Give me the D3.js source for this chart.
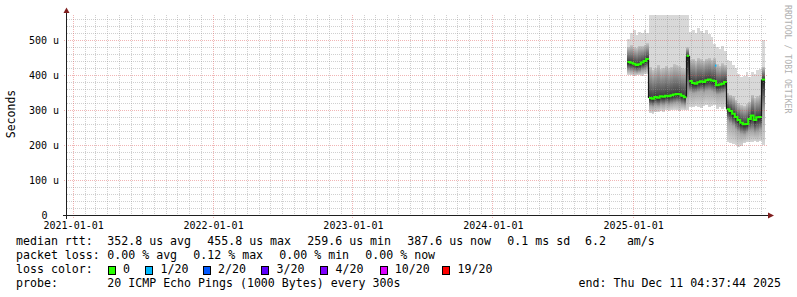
<!DOCTYPE html>
<html>
<head>
<meta charset="utf-8">
<script src="https://cdn.jsdelivr.net/npm/d3@7"></script>
<style>
  html, body { margin: 0; padding: 0; background: #fff; }
  svg text { font-family: "DejaVu Sans Mono", monospace; white-space: pre; }
</style>
</head>
<body>
<div id="chart-container"></div>
<script>
// weekly consolidated ping rtt, microseconds
const weekStart = "2024-12-17";
const endTime = "2025-12-11 04:37:44";

const median = [438, 436, 433, 430, 432, 437, 441, 447,
  335, 333, 338, 336, 340, 339, 342, 340, 343, 345, 347, 346, 342, 337,
  456,
  384, 378, 376, 380, 383, 381, 386, 388, 385, 384,
  372, 374, 376, 381,
  303, 298, 290, 281, 272, 264, 260, 261, 275,
  285, 272, 280, 281,
  388];
const smokeMax = [505, 520, 530, 515, 525, 520, 530, 520,
  620, 680, 650, 700, 640, 660, 690, 630, 670, 650, 700, 640, 660, 620,
  620,
  525, 530, 522, 536, 528, 520, 530, 518, 510, 490,
  480, 476, 485, 470,
  445, 440, 430, 420, 405, 395, 398, 410, 395,
  410, 405, 415, 418,
  500];
const smokeUpper = [482, 486, 480, 478, 485, 484, 488, 492,
  425, 415, 420, 430, 418, 422, 428, 420, 425, 432, 430, 426, 420, 418,
  480,
  445, 448, 440, 450, 446, 442, 448, 450, 444, 450,
  432, 428, 435, 430,
  350, 345, 340, 330, 320, 315, 312, 318, 325,
  345, 335, 340, 345,
  425];
const smokeLower = [414, 412, 410, 408, 410, 414, 416, 420,
  312, 310, 314, 312, 316, 314, 318, 315, 318, 320, 322, 320, 316, 314,
  340,
  352, 348, 350, 352, 354, 350, 355, 356, 354, 350,
  345, 346, 348, 350,
  270, 262, 255, 245, 238, 232, 230, 235, 240,
  240, 235, 238, 244,
  300];
const smokeMin = [402, 400, 398, 400, 401, 399, 403, 405,
  292, 290, 294, 296, 298, 296, 300, 298, 300, 302, 300, 298, 302, 300,
  300,
  310, 308, 312, 310, 306, 312, 314, 310, 312, 316,
  305, 308, 304, 310,
  210, 206, 204, 200, 196, 198, 205, 208, 210,
  210, 212, 208, 212,
  200];

const lossDates = ["2025-08-02"];
const lossMedians = [428];
const lossCounts = [1];

const lossLabels = ["0", "1/20", "2/20", "3/20", "4/20", "10/20", "19/20"];
const lossColors = ["#26ff00", "#00b8ff", "#0059ff", "#5e00ff", "#7e00ff", "#dd00ff", "#ff0000"];

const yTickValues = [0, 100, 200, 300, 400, 500];
const xTickDates = ["2021-01-01", "2022-01-01", "2023-01-01", "2024-01-01", "2025-01-01"];

const rttStats = ["352.8 us avg", "455.8 us max", "259.6 us min", "387.6 us now", "0.1 ms sd", "6.2   am/s"];
const lossStats = ["0.00 % avg", "0.12 % max", "0.00 % min", "0.00 % now"];
const probeText = "20 ICMP Echo Pings (1000 Bytes) every 300s";

// ---------------------------------------------------------------
const width = 797, height = 297;
const plot = { left: 67, right: 767, top: 15, bottom: 215 };

const parseDay = d3.timeParse("%Y-%m-%d");
const parseFull = d3.timeParse("%Y-%m-%d %H:%M:%S");
const tEnd = parseFull(endTime);
const t0 = parseDay(weekStart);

const x = d3.scaleTime()
    .domain([new Date(2020, 11, 16), new Date(2025, 11, 16)])
    .range([plot.left, plot.right]);
const y = d3.scaleLinear().domain([0, 573]).range([plot.bottom, plot.top]);
const px = v => Math.floor(v) + 0.5;

const weeks = median.map((m, i) => ({
    t: d3.timeDay.offset(t0, 7 * i),
    t1: i < median.length - 1 ? d3.timeDay.offset(t0, 7 * (i + 1)) : tEnd,
    med: m, hi: smokeMax[i], up: smokeUpper[i], dn: smokeLower[i], lo: smokeMin[i]
}));

const svg = d3.select("#chart-container")
    .append("svg")
    .attr("width", width)
    .attr("height", height);

const defs = svg.append("defs");
defs.append("clipPath").attr("id", "plotclip")
    .append("rect")
    .attr("x", plot.left).attr("y", plot.top)
    .attr("width", plot.right - plot.left).attr("height", plot.bottom - plot.top);

function grad(id, c0, c1) {
    const g = defs.append("linearGradient").attr("id", id)
        .attr("x1", 0).attr("y1", 0).attr("x2", 0).attr("y2", 1);
    g.append("stop").attr("offset", "0%").attr("stop-color", c0);
    g.append("stop").attr("offset", "100%").attr("stop-color", c1);
}
grad("gUp", "#c4c4c4", "#3a3a3a");
grad("gDown", "#1c1c1c", "#a6a6a6");
grad("gTail", "#a6a6a6", "#d6d6d6");

// smoke
const smoke = svg.append("g").attr("clip-path", "url(#plotclip)").attr("shape-rendering", "crispEdges");
function band(lowKey, highKey, fill) {
    smoke.selectAll(null)
        .data(weeks)
        .enter()
        .append("rect")
        .attr("x", d => x(d.t))
        .attr("width", d => x(d.t1) - x(d.t))
        .attr("y", d => y(d[highKey]))
        .attr("height", d => Math.max(0, y(d[lowKey]) - y(d[highKey])))
        .attr("fill", fill);
}
band("lo", "hi", "#d8d8d8");
band("med", "up", "url(#gUp)");
band("dn", "med", "url(#gDown)");
band("lo", "dn", "url(#gTail)");

// grid
const minorCol = "rgba(143,143,143,0.42)", majorCol = "rgba(222,79,79,0.42)";
const grid = svg.append("g");
const minorY = d3.range(20, 573, 20).filter(v => v % 100 !== 0);
const majorY = yTickValues.filter(v => v > 0);
grid.selectAll(".hmin").data(minorY).enter().append("line")
    .attr("x1", plot.left).attr("x2", plot.right)
    .attr("y1", d => px(y(d))).attr("y2", d => px(y(d)))
    .attr("stroke", minorCol).attr("stroke-dasharray", "1,1");
const months = d3.timeMonth.range(x.domain()[0], x.domain()[1]).filter(d => d.getMonth() !== 0);
grid.selectAll(".vmin").data(months).enter().append("line")
    .attr("y1", plot.top).attr("y2", plot.bottom)
    .attr("x1", d => px(x(d))).attr("x2", d => px(x(d)))
    .attr("stroke", minorCol).attr("stroke-dasharray", "1,1");
grid.selectAll(".hmaj").data(majorY).enter().append("line")
    .attr("x1", plot.left - 3).attr("x2", plot.right)
    .attr("y1", d => px(y(d))).attr("y2", d => px(y(d)))
    .attr("stroke", majorCol).attr("stroke-dasharray", "1,1");
grid.selectAll(".vmaj").data(xTickDates.map(parseDay)).enter().append("line")
    .attr("y1", plot.top).attr("y2", plot.bottom + 3)
    .attr("x1", d => px(x(d))).attr("x2", d => px(x(d)))
    .attr("stroke", majorCol).attr("stroke-dasharray", "1,1");

// median line, split at large jumps
const runs = [];
weeks.forEach((d, i) => {
    if (i === 0 || Math.abs(d.med - weeks[i - 1].med) > 30) runs.push([]);
    runs[runs.length - 1].push(d);
});
const stepLine = d3.line().curve(d3.curveStepAfter);
weeks.forEach((d, i) => {
    if (i > 0 && Math.abs(d.med - weeks[i - 1].med) > 30) {
        svg.append("line")
            .attr("x1", px(x(d.t))).attr("x2", px(x(d.t)))
            .attr("y1", y(weeks[i - 1].med)).attr("y2", y(d.med))
            .attr("stroke", "#151515").attr("stroke-width", 1.2);
    }
});
runs.forEach(run => {
    const pts = run.map(d => [x(d.t), y(d.med)]);
    const last = run[run.length - 1];
    pts.push([x(last.t1), y(last.med)]);
    svg.append("path")
        .attr("d", stepLine(pts))
        .attr("fill", "none")
        .attr("stroke", lossColors[0])
        .attr("stroke-width", 2);
});
lossDates.forEach((s, i) => {
    const t = parseDay(s);
    svg.append("line")
        .attr("x1", x(t)).attr("x2", x(d3.timeDay.offset(t, 4)))
        .attr("y1", y(lossMedians[i])).attr("y2", y(lossMedians[i]))
        .attr("stroke", lossColors[lossCounts[i]]).attr("stroke-width", 2);
});

// axes labels
const xAxis = svg.append("g")
    .attr("transform", `translate(0, ${plot.bottom})`)
    .call(d3.axisBottom(x).tickValues(xTickDates.map(parseDay))
        .tickFormat(d3.timeFormat("%Y-%m-%d")).tickSize(0).tickPadding(6.5));
xAxis.select(".domain").remove();
xAxis.selectAll("text").attr("font-family", "DejaVu Sans Mono").attr("font-size", 10).attr("fill", "#000");

const yAxis = svg.append("g")
    .attr("transform", `translate(${plot.left}, 0)`)
    .call(d3.axisLeft(y).tickValues(yTickValues)
        .tickFormat(v => v ? v + " u" : "0").tickSize(0).tickPadding(8));
yAxis.select(".domain").remove();
yAxis.selectAll("text").attr("font-family", "DejaVu Sans Mono").attr("font-size", 10).attr("fill", "#000")
    .attr("dy", "0.3em")
    .attr("x", v => v ? -8 : -19.5);

// axis lines and arrows
svg.append("line").attr("x1", 63).attr("x2", 768).attr("y1", px(y(0))).attr("y2", px(y(0)))
    .attr("stroke", "#1f1f1f");
svg.append("line").attr("x1", 66.5).attr("x2", 66.5).attr("y1", 219).attr("y2", 12)
    .attr("stroke", "#1f1f1f");
svg.append("path").attr("d", "M63.5,13L66.5,7.5L69.5,13Z").attr("fill", "#801f1f");
svg.append("path").attr("d", "M768,212.5L774,215.5L768,218.5Z").attr("fill", "#801f1f");

svg.append("text")
    .attr("transform", "translate(15, 114) rotate(-90)")
    .attr("text-anchor", "middle")
    .attr("font-size", 11.5)
    .text("Seconds");

svg.append("text")
    .attr("transform", "translate(785, 5) rotate(90)")
    .attr("font-size", 8.2)
    .attr("fill", "#b0b0b0")
    .text("RRDTOOL / TOBI OETIKER");

// legend
const legend = svg.append("g").attr("font-size", 11.6).attr("fill", "#000");
const rttX = [107.3, 207.3, 307.3, 407.3, 507.3, 585];
const lossX = [107.3, 193.3, 279.3, 365.3];
const boxX = [108.3, 145.7, 203.3, 261.7, 320.7, 380, 442.7];

legend.append("text").attr("x", 16).attr("y", 245).text("median rtt:");
legend.selectAll(".rtt").data(rttStats).enter().append("text")
    .attr("x", (d, i) => rttX[i]).attr("y", 245).text(d => d);

legend.append("text").attr("x", 16).attr("y", 259).text("packet loss:");
legend.selectAll(".pl").data(lossStats).enter().append("text")
    .attr("x", (d, i) => lossX[i]).attr("y", 259).text(d => d);

legend.append("text").attr("x", 16).attr("y", 273).text("loss color:");
legend.selectAll(".box").data(lossLabels).enter().append("rect")
    .attr("x", (d, i) => Math.floor(boxX[i]) + 0.5).attr("y", 266.5)
    .attr("width", 7).attr("height", 8)
    .attr("fill", (d, i) => lossColors[i])
    .attr("stroke", "#000");
legend.selectAll(".ll").data(lossLabels).enter().append("text")
    .attr("x", (d, i) => boxX[i] + 14.8).attr("y", 273).text(d => d);

legend.append("text").attr("x", 16).attr("y", 287).text("probe:");
legend.append("text").attr("x", 107.3).attr("y", 287).text(probeText);
legend.append("text").attr("x", 781).attr("y", 287).attr("text-anchor", "end")
    .text("end: " + d3.timeFormat("%a %b %d %H:%M:%S %Y")(tEnd));
</script>
</body>
</html>
